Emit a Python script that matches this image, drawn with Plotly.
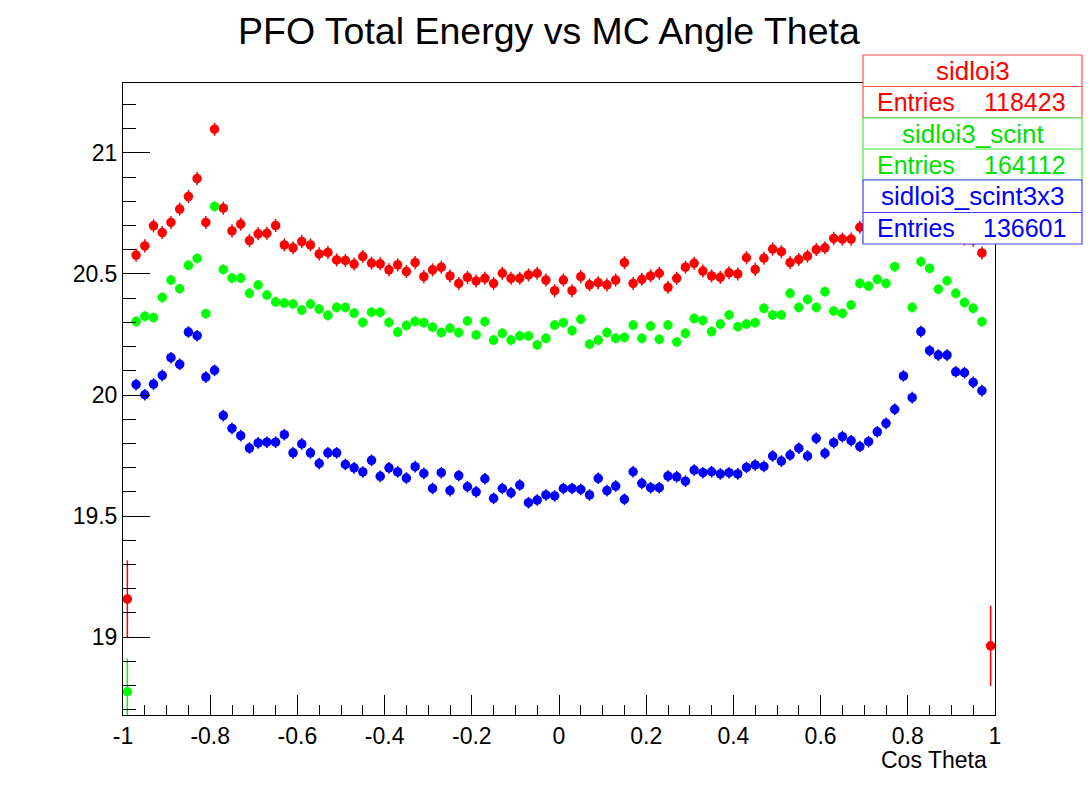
import numpy as np
import plotly.graph_objects as go

# ---------------- data ----------------
BIN_EDGES = np.linspace(-1.0, 1.0, 101)          # 100 bins in cos(theta)
BIN_CENTERS = 0.5 * (BIN_EDGES[:-1] + BIN_EDGES[1:])

series_names = ["sidloi3", "sidloi3_scint", "sidloi3_scint3x3"]
entries = [118423, 164112, 136601]

sidloi3 = [
    19.157, 20.578, 20.616, 20.699, 20.671, 20.713, 20.768, 20.820, 20.894, 20.713,
    21.098, 20.772, 20.678, 20.706, 20.638, 20.666, 20.668, 20.700, 20.620, 20.608,
    20.634, 20.620, 20.583, 20.589, 20.558, 20.556, 20.541, 20.572, 20.545, 20.542,
    20.517, 20.538, 20.510, 20.547, 20.489, 20.517, 20.528, 20.492, 20.461, 20.486,
    20.471, 20.482, 20.461, 20.503, 20.482, 20.482, 20.496, 20.503, 20.475, 20.431,
    20.475, 20.431, 20.489, 20.455, 20.464, 20.455, 20.475, 20.547, 20.461, 20.478,
    20.492, 20.503, 20.445, 20.482, 20.528, 20.544, 20.512, 20.492, 20.486, 20.505,
    20.500, 20.567, 20.519, 20.565, 20.603, 20.592, 20.547, 20.560, 20.574, 20.601,
    20.608, 20.647, 20.644, 20.644, 20.693, 20.700, 20.720, 20.760, 20.800, 21.050,
    20.740, 20.800, 20.760, 20.730, 20.700, 20.680, 20.645, 20.640, 20.587, 18.964,
]

sidloi3_scint = [
    18.774, 20.304, 20.325, 20.320, 20.403, 20.475, 20.439, 20.536, 20.564, 20.336,
    20.779, 20.519, 20.483, 20.483, 20.420, 20.454, 20.413, 20.385, 20.380, 20.376,
    20.351, 20.376, 20.355, 20.329, 20.362, 20.362, 20.338, 20.300, 20.342, 20.341,
    20.300, 20.260, 20.287, 20.304, 20.299, 20.280, 20.258, 20.276, 20.258, 20.306,
    20.248, 20.303, 20.227, 20.255, 20.227, 20.244, 20.244, 20.207, 20.234, 20.289,
    20.299, 20.266, 20.313, 20.210, 20.227, 20.258, 20.234, 20.238, 20.289, 20.234,
    20.285, 20.230, 20.289, 20.219, 20.255, 20.316, 20.308, 20.262, 20.293, 20.331,
    20.282, 20.293, 20.299, 20.358, 20.331, 20.331, 20.420, 20.362, 20.395, 20.362,
    20.427, 20.347, 20.337, 20.372, 20.461, 20.450, 20.478, 20.461, 20.530, 20.750,
    20.362, 20.551, 20.523, 20.437, 20.472, 20.420, 20.382, 20.358, 20.303, None,
]

sidloi3_scint3x3 = [
    None,   20.043, 20.001, 20.045, 20.081, 20.154, 20.127, 20.260, 20.245, 20.074,
    20.102, 19.915, 19.862, 19.832, 19.781, 19.802, 19.805, 19.805, 19.836, 19.761,
    19.798, 19.761, 19.717, 19.761, 19.761, 19.713, 19.699, 19.682, 19.730, 19.664,
    19.699, 19.682, 19.657, 19.704, 19.676, 19.614, 19.679, 19.605, 19.667, 19.621,
    19.600, 19.654, 19.573, 19.614, 19.596, 19.628, 19.555, 19.566, 19.587, 19.583,
    19.614, 19.614, 19.610, 19.587, 19.656, 19.605, 19.624, 19.569, 19.683, 19.635,
    19.617, 19.617, 19.665, 19.662, 19.644, 19.690, 19.679, 19.683, 19.674, 19.679,
    19.674, 19.701, 19.711, 19.705, 19.748, 19.727, 19.752, 19.780, 19.748, 19.821,
    19.759, 19.803, 19.828, 19.811, 19.787, 19.807, 19.848, 19.883, 19.941, 20.079,
    19.989, 20.262, 20.183, 20.165, 20.165, 20.096, 20.092, 20.052, 20.018, None,
]

# typical statistical error per bin, with the large errors of the edge bins
typical_err = [0.027, 0.021, 0.024]
edge_err_first = [0.160, 0.138, 0.0]
edge_err_last = [0.166, 0.0, 0.0]

x_ticks = [-1, -0.8, -0.6, -0.4, -0.2, 0, 0.2, 0.4, 0.6, 0.8, 1]
x_tick_labels = ["-1", "-0.8", "-0.6", "-0.4", "-0.2", "0", "0.2", "0.4", "0.6", "0.8", "1"]
y_ticks = [19, 19.5, 20, 20.5, 21]
y_tick_labels = ["19", "19.5", "20", "20.5", "21"]

colors = ["#ff0000", "#00ff00", "#0000ff"]
text_colors = ["#ff0000", "#00e000", "#0000ff"]
border_colors = ["#ff5050", "#40f040", "#4040ff"]

# ---------------- figure ----------------
W, H = 1090, 789
ML, MR, MT, MB = 123, 95, 83, 74
PW, PH = W - ML - MR, H - MT - MB
FONT = "Liberation Sans, Arial, Helvetica, sans-serif"


def px(xp):
    return (xp - ML) / PW


def py(yp):
    return (H - MB - yp) / PH


fig = go.Figure()
all_vals = [sidloi3, sidloi3_scint, sidloi3_scint3x3]
for k, vals in enumerate(all_vals):
    errs = [typical_err[k]] * len(vals)
    errs[0] = edge_err_first[k] or typical_err[k]
    errs[-1] = edge_err_last[k] or typical_err[k]
    fig.add_trace(go.Scatter(
        x=BIN_CENTERS, y=vals, mode="markers", name=series_names[k],
        marker=dict(color=colors[k], size=9.5, line=dict(width=0)),
        error_y=dict(type="data", array=errs, color=colors[k], thickness=1.5, width=0),
        showlegend=False, cliponaxis=True,
    ))

fig.update_layout(
    width=W, height=H,
    margin=dict(l=ML, r=MR, t=MT, b=MB, pad=0),
    paper_bgcolor="white", plot_bgcolor="white",
    font=dict(family=FONT, color="black", size=23),
    showlegend=False,
)

fig.update_xaxes(
    range=[-1, 1], showgrid=False, zeroline=False,
    showline=True, linecolor="black", linewidth=1, mirror=True,
    ticks="inside", ticklen=20, tickwidth=1, tickcolor="black",
    tickmode="array", tickvals=x_ticks, ticktext=x_tick_labels,
    tickfont=dict(family=FONT, size=23, color="black"),
    minor=dict(ticks="inside", ticklen=10, tickwidth=1, tickcolor="black",
               tickmode="linear", tick0=-1, dtick=0.05, showgrid=False),
)
fig.update_yaxes(
    range=[18.678, 21.289], showgrid=False, zeroline=False,
    showline=True, linecolor="black", linewidth=1, mirror=True,
    ticks="inside", ticklen=27, tickwidth=1, tickcolor="black",
    tickmode="array", tickvals=y_ticks, ticktext=y_tick_labels,
    tickfont=dict(family=FONT, size=23, color="black"),
    minor=dict(ticks="inside", ticklen=13, tickwidth=1, tickcolor="black",
               tickmode="linear", tick0=19, dtick=0.1, showgrid=False),
)

annotations = [
    dict(text="PFO Total Energy vs MC Angle Theta", xref="paper", yref="paper",
         x=px(549), y=py(31), xanchor="center", yanchor="middle", showarrow=False,
         font=dict(family=FONT, size=37.5, color="black")),
    dict(text="Cos Theta", xref="paper", yref="paper",
         x=px(989), y=py(760), xanchor="right", yanchor="middle", showarrow=False,
         font=dict(family=FONT, size=23, color="black")),
]

shapes = []
box_left, box_right = 863, 1082
row_tops = [55, 86.5, 118, 149, 180, 212.5, 244]
for k in range(3):
    t, m, b = row_tops[2 * k], row_tops[2 * k + 1], row_tops[2 * k + 2]
    shapes.append(dict(type="rect", xref="paper", yref="paper", layer="above",
                       x0=px(box_left), x1=px(box_right), y0=py(b), y1=py(t),
                       fillcolor="white", line=dict(color=border_colors[k], width=1.2)))
    shapes.append(dict(type="line", xref="paper", yref="paper", layer="above",
                       x0=px(box_left), x1=px(box_right), y0=py(m), y1=py(m),
                       line=dict(color=border_colors[k], width=1.2)))
    annotations.append(dict(text=series_names[k], xref="paper", yref="paper",
                            x=px((box_left + box_right) / 2), y=py((t + m) / 2),
                            xanchor="center", yanchor="middle", showarrow=False,
                            font=dict(family=FONT, size=26, color=text_colors[k])))
    annotations.append(dict(text="Entries", xref="paper", yref="paper",
                            x=px(875), y=py((m + b) / 2),
                            xanchor="left", yanchor="middle", showarrow=False,
                            font=dict(family=FONT, size=25, color=text_colors[k])))
    annotations.append(dict(text=str(entries[k]), xref="paper", yref="paper",
                            x=px(1068), y=py((m + b) / 2),
                            xanchor="right", yanchor="middle", showarrow=False,
                            font=dict(family=FONT, size=25, color=text_colors[k])))

fig.update_layout(annotations=annotations, shapes=shapes)
fig.write_html("out.html")
